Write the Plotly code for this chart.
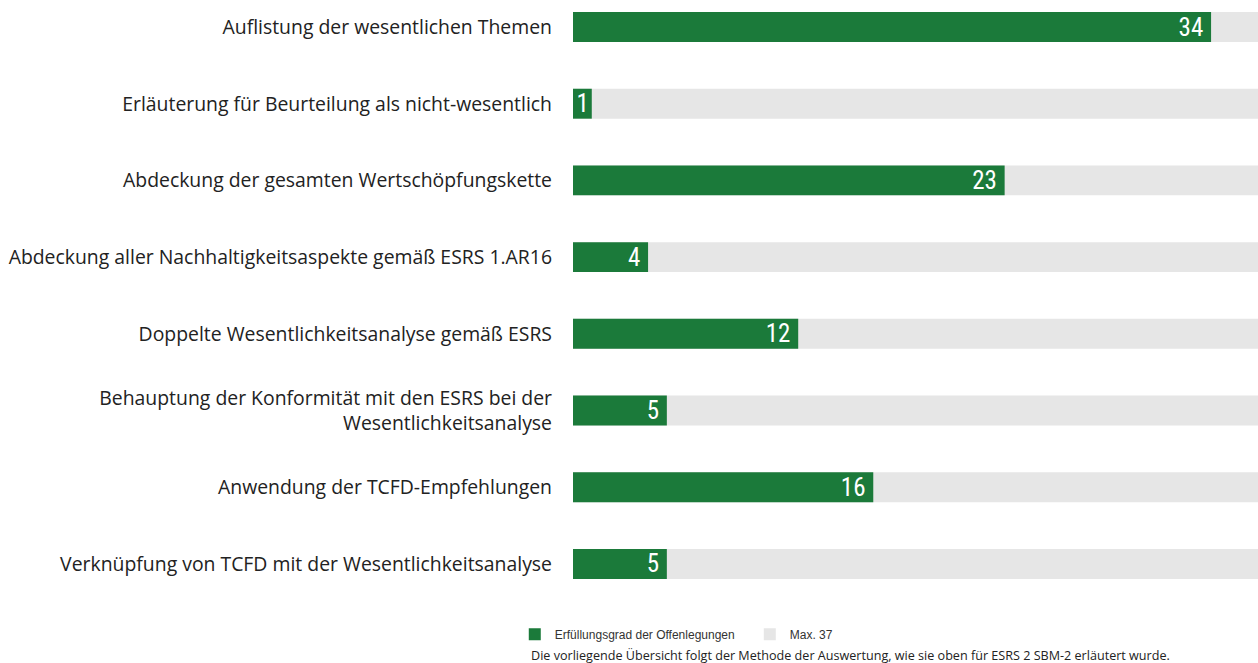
import plotly.graph_objects as go

categories = [
    "Auflistung der wesentlichen Themen",
    "Erläuterung für Beurteilung als nicht-wesentlich",
    "Abdeckung der gesamten Wertschöpfungskette",
    "Abdeckung aller Nachhaltigkeitsaspekte gemäß ESRS 1.AR16",
    "Doppelte Wesentlichkeitsanalyse gemäß ESRS",
    "Behauptung der Konformität mit den ESRS bei der<br>Wesentlichkeitsanalyse",
    "Anwendung der TCFD-Empfehlungen",
    "Verknüpfung von TCFD mit der Wesentlichkeitsanalyse",
]
values = [34, 1, 23, 4, 12, 5, 16, 5]
max_value = 37
max_values = [max_value] * len(categories)

GREEN = "#1b7a3a"
GRAY = "#e6e6e6"

# trailing thin space gives extra right padding, except where the bar is too short
labels = [f"{v}\u2009" if v > 1 else str(v) for v in values]

fig = go.Figure()
fig.add_trace(go.Bar(
    y=categories, x=max_values, orientation="h",
    marker=dict(color=GRAY, line=dict(width=0)),
    name=f"Max. {max_value}", width=0.39, legendrank=2,
    hoverinfo="skip",
))
fig.add_trace(go.Bar(
    y=categories, x=values, orientation="h",
    marker=dict(color=GREEN, line=dict(width=0)),
    name="Erfüllungsgrad der Offenlegungen", width=0.39, legendrank=1,
    text=labels, textposition="inside",
    insidetextanchor="end", textangle=0, constraintext="none",
    textfont=dict(family="Roboto Condensed, DejaVu Sans Condensed, Liberation Sans Narrow, DejaVu Sans",
                  size=25, color="white"),
    cliponaxis=False,
))

fig.update_layout(
    width=1258, height=663,
    barmode="overlay",
    margin=dict(l=573, r=0, t=0, b=63),
    plot_bgcolor="white", paper_bgcolor="white",
    font=dict(family="Open Sans", color="#222222"),
    xaxis=dict(range=[0, 36.5], visible=False, fixedrange=True),
    yaxis=dict(
        categoryorder="array", categoryarray=categories,
        range=[7.47, -0.352],
        showgrid=False, zeroline=False, showline=False, ticks="",
        ticklabelstandoff=20,
        tickfont=dict(family="Open Sans", size=19.4, color="#222222"),
    ),
    legend=dict(
        orientation="h", x=-0.085, xanchor="left", y=-0.057, yanchor="middle",
        font=dict(family="Liberation Sans", size=12, color="#333333"),
        entrywidth=190, entrywidthmode="pixels", itemwidth=30,
        traceorder="normal",
    ),
    showlegend=True,
    annotations=[dict(
        text="Die vorliegende Übersicht folgt der Methode der Auswertung, wie sie oben für ESRS 2 SBM-2 erläutert wurde.",
        xref="paper", yref="paper", x=-0.064, y=-0.0917, xanchor="left", yanchor="middle",
        showarrow=False, font=dict(family="Open Sans", size=12.6, color="#222222"),
    )],
)

fig.write_html("out.html")
